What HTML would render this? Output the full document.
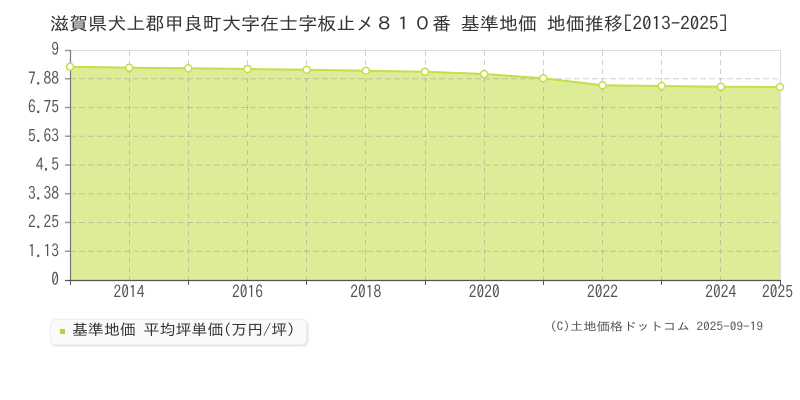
<!DOCTYPE html>
<html><head><meta charset="utf-8"><style>
html,body{margin:0;padding:0;background:#fff;}
svg{display:block;}
text{font-family:"IPAGothic","Liberation Sans","Noto Sans CJK JP",sans-serif;}
</style></head><body>
<svg width="800" height="400" viewBox="0 0 800 400" xmlns="http://www.w3.org/2000/svg">
<defs>
<filter id="sh" x="-10%" y="-30%" width="120%" height="160%"><feDropShadow dx="1" dy="1" stdDeviation="1" flood-color="#000" flood-opacity="0.15"/></filter>
</defs>
<rect width="800" height="400" fill="#fff"/>
<text x="50" y="30" font-size="18" fill="#333" textLength="678" lengthAdjust="spacingAndGlyphs">滋賀県犬上郡甲良町大字在士字板止メ８１０番 基準地価 地価推移[2013-2025]</text>
<!-- plot borders -->
<line x1="70" y1="50.5" x2="780" y2="50.5" stroke="#dcdcdc" stroke-width="1"/>
<line x1="780.5" y1="50" x2="780.5" y2="280" stroke="#dcdcdc" stroke-width="1"/>
<!-- fill -->
<polygon fill="#dcec97" points="70,280 70,66.7 129.17,67.7 188.33,68.3 247.5,69 306.67,69.7 365.83,70.7 425,71.7 484.17,74 543.33,78.3 602.5,85.3 661.67,86 720.83,86.7 780,87 780,280"/>
<!-- grid -->
<g stroke="rgba(150,150,150,0.45)" stroke-width="1" stroke-dasharray="6,3" fill="none">
<line x1="70" y1="78.75" x2="780" y2="78.75"/>
<line x1="70" y1="107.5" x2="780" y2="107.5"/>
<line x1="70" y1="136.25" x2="780" y2="136.25"/>
<line x1="70" y1="165" x2="780" y2="165"/>
<line x1="70" y1="193.75" x2="780" y2="193.75"/>
<line x1="70" y1="222.5" x2="780" y2="222.5"/>
<line x1="70" y1="251.25" x2="780" y2="251.25"/>
</g>
<g stroke="rgba(150,150,150,0.45)" stroke-width="1" stroke-dasharray="5,4" fill="none">
<line x1="129.5" y1="51" x2="129.5" y2="285"/>
<line x1="188.5" y1="51" x2="188.5" y2="280"/>
<line x1="247.5" y1="51" x2="247.5" y2="285"/>
<line x1="306.5" y1="51" x2="306.5" y2="280"/>
<line x1="365.5" y1="51" x2="365.5" y2="285"/>
<line x1="425.5" y1="51" x2="425.5" y2="280"/>
<line x1="484.5" y1="51" x2="484.5" y2="285"/>
<line x1="543.5" y1="51" x2="543.5" y2="280"/>
<line x1="602.5" y1="51" x2="602.5" y2="285"/>
<line x1="661.5" y1="51" x2="661.5" y2="280"/>
<line x1="720.5" y1="51" x2="720.5" y2="285"/>
</g>
<!-- series line -->
<polyline fill="none" stroke="#c3df4a" stroke-width="2" points="70,66.7 129.17,67.7 188.33,68.3 247.5,69 306.67,69.7 365.83,70.7 425,71.7 484.17,74 543.33,78.3 602.5,85.3 661.67,86 720.83,86.7 780,87"/>
<!-- axes -->
<line x1="70.5" y1="50" x2="70.5" y2="280" stroke="#777" stroke-width="1.2"/>
<line x1="65" y1="280.5" x2="780" y2="280.5" stroke="#555" stroke-width="1.2"/>
<g stroke="#999" stroke-width="1.5">
<line x1="65" y1="50.5" x2="70" y2="50.5"/>
<line x1="65" y1="78.75" x2="70" y2="78.75"/>
<line x1="65" y1="107.5" x2="70" y2="107.5"/>
<line x1="65" y1="136.25" x2="70" y2="136.25"/>
<line x1="65" y1="165" x2="70" y2="165"/>
<line x1="65" y1="193.75" x2="70" y2="193.75"/>
<line x1="65" y1="222.5" x2="70" y2="222.5"/>
<line x1="65" y1="251.25" x2="70" y2="251.25"/>
</g>
<g stroke="#555" stroke-width="1">
<line x1="70.5" y1="280" x2="70.5" y2="285"/>
<line x1="188.5" y1="280" x2="188.5" y2="285"/>
<line x1="306.5" y1="280" x2="306.5" y2="285"/>
<line x1="425.5" y1="280" x2="425.5" y2="285"/>
<line x1="543.5" y1="280" x2="543.5" y2="285"/>
<line x1="661.5" y1="280" x2="661.5" y2="285"/>
<line x1="780.5" y1="280" x2="780.5" y2="285"/>
</g>
<!-- markers -->
<g fill="#fff" stroke="#c3df4a" stroke-width="1.5">
<circle cx="70" cy="66.7" r="3.5"/>
<circle cx="129.17" cy="67.7" r="3.5"/>
<circle cx="188.33" cy="68.3" r="3.5"/>
<circle cx="247.5" cy="69" r="3.5"/>
<circle cx="306.67" cy="69.7" r="3.5"/>
<circle cx="365.83" cy="70.7" r="3.5"/>
<circle cx="425" cy="71.7" r="3.5"/>
<circle cx="484.17" cy="74" r="3.5"/>
<circle cx="543.33" cy="78.3" r="3.5"/>
<circle cx="602.5" cy="85.3" r="3.5"/>
<circle cx="661.67" cy="86" r="3.5"/>
<circle cx="720.83" cy="86.7" r="3.5"/>
<circle cx="780" cy="87" r="3.5"/>
</g>
<!-- y labels -->
<g font-size="17" fill="#555" text-anchor="end">
<text x="59" y="55.5" textLength="7.7" lengthAdjust="spacingAndGlyphs">9</text>
<text x="59" y="84.5" textLength="31" lengthAdjust="spacingAndGlyphs">7.88</text>
<text x="59" y="113" textLength="31" lengthAdjust="spacingAndGlyphs">6.75</text>
<text x="59" y="142" textLength="31" lengthAdjust="spacingAndGlyphs">5.63</text>
<text x="59" y="170.5" textLength="23.3" lengthAdjust="spacingAndGlyphs">4.5</text>
<text x="59" y="199.5" textLength="31" lengthAdjust="spacingAndGlyphs">3.38</text>
<text x="59" y="228" textLength="31" lengthAdjust="spacingAndGlyphs">2.25</text>
<text x="59" y="257" textLength="31" lengthAdjust="spacingAndGlyphs">1.13</text>
<text x="59" y="285.5" textLength="7.7" lengthAdjust="spacingAndGlyphs">0</text>
</g>
<!-- x labels -->
<g font-size="17" fill="#555" text-anchor="middle">
<text x="129" y="298" textLength="31" lengthAdjust="spacingAndGlyphs">2014</text>
<text x="247.5" y="298" textLength="31" lengthAdjust="spacingAndGlyphs">2016</text>
<text x="365.8" y="298" textLength="31" lengthAdjust="spacingAndGlyphs">2018</text>
<text x="484.2" y="298" textLength="31" lengthAdjust="spacingAndGlyphs">2020</text>
<text x="602.5" y="298" textLength="31" lengthAdjust="spacingAndGlyphs">2022</text>
<text x="720.8" y="298" textLength="31" lengthAdjust="spacingAndGlyphs">2024</text>
<text x="777.5" y="298" textLength="31" lengthAdjust="spacingAndGlyphs">2025</text>
</g>
<!-- legend -->
<rect x="50.5" y="319.5" width="256" height="25" rx="5" ry="5" fill="#fafafa" stroke="#eeeeee" filter="url(#sh)"/>
<rect x="60" y="329" width="5" height="5" fill="#b5d334"/>
<text x="72" y="335" font-size="15" fill="#333" textLength="223" lengthAdjust="spacingAndGlyphs">基準地価 平均坪単価(万円/坪)</text>
<!-- copyright -->
<text x="550" y="330.5" font-size="11.5" fill="#555" textLength="213" lengthAdjust="spacingAndGlyphs">(C)土地価格ドットコム 2025-09-19</text>
</svg>
</body></html>
